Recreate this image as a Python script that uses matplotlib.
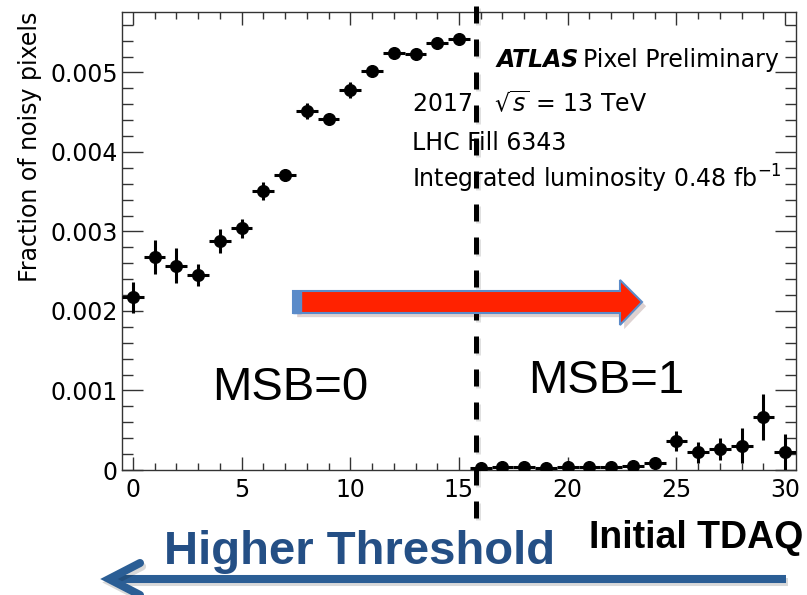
import matplotlib
matplotlib.use("Agg")
import matplotlib.pyplot as plt
from matplotlib.patches import Polygon, Rectangle
from matplotlib.lines import Line2D
import matplotlib.patheffects as pe
from matplotlib.ticker import MultipleLocator, FixedLocator

# ---------------- data ----------------
tdaq = list(range(31))
frac = [0.00217, 0.00268, 0.00257, 0.00245, 0.00288, 0.00304, 0.00351, 0.00371,
        0.00452, 0.00442, 0.00478, 0.00502, 0.00525, 0.00523, 0.00537, 0.00542,
        0.000020, 0.000034, 0.000034, 0.000020, 0.000034, 0.000034, 0.000034,
        0.000054, 0.000084, 0.000365, 0.000222, 0.000268, 0.000302, 0.000671,
        0.000222]
frac_err = [0.00020, 0.00021, 0.00022, 0.00014, 0.00015, 0.00012, 0.00011, 0.00007,
            0.00010, 0.00006, 0.00010, 0.00005, 0.00005, 0.00005, 0.00005, 0.00004,
            0.00003, 0.00002, 0.00002, 0.00002, 0.00003, 0.00002, 0.00002, 0.00002,
            0.00003, 0.00012, 0.00013, 0.00014, 0.00022, 0.00029, 0.00023]
bin_half_width = 0.5
xticks = [0, 5, 10, 15, 20, 25, 30]
yticks = [0, 0.001, 0.002, 0.003, 0.004, 0.005]
ytick_labels = ["0", "0.001", "0.002", "0.003", "0.004", "0.005"]
msb_boundary = 15.8

W, H = 807, 595
fig = plt.figure(figsize=(W / 100, H / 100), dpi=100)


def fx(px):
    return px / W


def fy(py):
    return 1 - py / H


ax = fig.add_axes([fx(122), fy(470), (796 - 122) / W, (470 - 12) / H])
ax.errorbar(tdaq, frac, xerr=bin_half_width, yerr=frac_err, fmt='o', color='black',
            ms=8.4, elinewidth=2.2, capsize=0, zorder=3)
ax.set_xlim(-0.5, 30.5)
ax.set_ylim(0, 0.00576)

ax.xaxis.set_major_locator(FixedLocator(xticks))
ax.xaxis.set_minor_locator(MultipleLocator(1))
ax.yaxis.set_major_locator(FixedLocator(yticks))
ax.set_yticklabels(ytick_labels)
ax.yaxis.set_minor_locator(MultipleLocator(0.0002))
for s in ax.spines.values():
    s.set_color('#333333')
    s.set_linewidth(1)
ax.tick_params(which='both', direction='in', top=True, right=True, color='#333333',
               labelcolor='black', labelsize=17, width=1)
ax.tick_params(axis='y', which='major', length=15, pad=3)
ax.tick_params(axis='y', which='minor', length=7.8)
ax.tick_params(axis='x', which='major', length=9.7, pad=6)
ax.tick_params(axis='x', which='minor', length=4.7)

ax.set_ylabel("Fraction of noisy pixels", fontsize=17, loc='top')
ax.yaxis.set_label_coords((42 - 122) / 674, 1.0)

# dashed boundary line
ax.axvline(msb_boundary, ymin=(470 - 518) / 458, ymax=(470 - 0) / 458, clip_on=False,
           color='black', lw=3.6, ls=(0, (3.4, 3.2)), zorder=4,
           path_effects=[pe.SimpleLineShadow(offset=(1.5, -1.5), alpha=0.12), pe.Normal()])

# ATLAS text block
t_atlas = fig.text(fx(497), fy(67), "ATLAS", fontsize=17, fontweight='bold', style='italic',
                   va='baseline', ha='left')
fig.text(fx(412), fy(112), r"2017   $\sqrt{s}$ = 13 TeV", fontsize=17, va='baseline', ha='left')
fig.text(fx(412), fy(150), "LHC Fill 6343", fontsize=17, va='baseline', ha='left')
fig.text(fx(412), fy(188), r"Integrated luminosity 0.48 fb$^{-1}$", fontsize=17,
         va='baseline', ha='left')
fig.canvas.draw()
bb = t_atlas.get_window_extent()
fig.text(bb.x1 / W + 0.004, fy(67), "Pixel Preliminary", fontsize=17, va='baseline', ha='left')

# MSB labels
fig.text(fx(212), fy(400), "MSB=0", fontsize=34, family='Liberation Sans', va='baseline')
fig.text(fx(528), fy(393), "MSB=1", fontsize=34, family='Liberation Sans', va='baseline')

# red arrow
shadow = [pe.SimplePatchShadow(offset=(3, -3), alpha=0.18), pe.Normal()]
red = Polygon([(fx(293), fy(291)), (fx(620), fy(291)), (fx(620), fy(280)), (fx(642), fy(302)),
               (fx(620), fy(325)), (fx(620), fy(313)), (fx(293), fy(313))],
              closed=True, transform=fig.transFigure, facecolor='#FF2200',
              edgecolor='#5B8BC9', lw=1.5, path_effects=shadow, zorder=5)
fig.patches.append(red)
strip = Rectangle((fx(293), fy(313)), fx(8), (313 - 291) / H, transform=fig.transFigure,
                  facecolor='#5B8BC9', edgecolor='#5B8BC9', lw=1, zorder=6)
fig.patches.append(strip)

# bottom annotations
fig.text(fx(589), fy(548), "Initial TDAQ", fontsize=27, fontweight='bold',
         family='Liberation Sans', va='baseline', ha='left')
fig.text(fx(360), fy(564), "Higher Threshold", fontsize=34, fontweight='bold',
         family='Liberation Sans', color='#244F85', va='baseline', ha='center')

blue = '#2B5E95'
lshadow = [pe.SimpleLineShadow(offset=(1.5, -2.5), alpha=0.15), pe.Normal()]
fig.lines.append(Line2D([fx(786), fx(112)], [fy(579), fy(579)], transform=fig.transFigure,
                        color=blue, lw=5.8, solid_capstyle='butt', path_effects=lshadow))
fig.lines.append(Line2D([fx(140), fx(109), fx(140)], [fy(563), fy(579), fy(595)],
                        transform=fig.transFigure, color=blue, lw=5.8,
                        solid_capstyle='round', solid_joinstyle='miter', path_effects=lshadow))

fig.savefig("out.png", dpi=100)
